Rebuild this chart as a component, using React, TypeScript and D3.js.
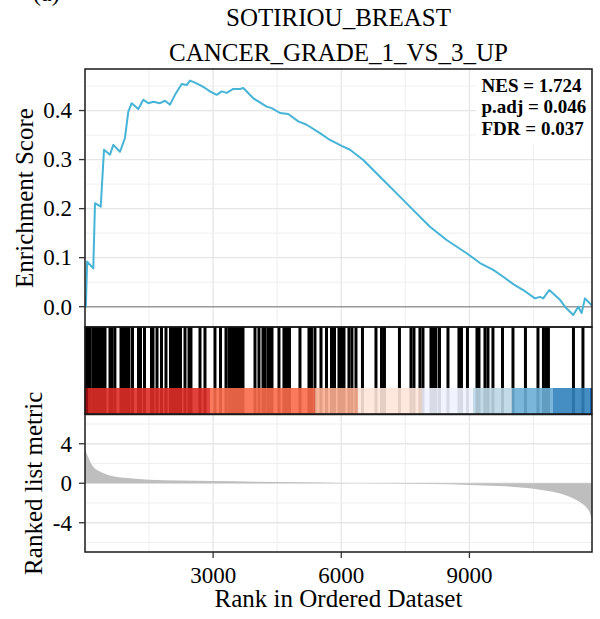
import React from "react";
import * as d3 from "d3";

const TITLE_LINES = ["SOTIRIOU_BREAST", "CANCER_GRADE_1_VS_3_UP"];
const PANEL_TAG = "(a)";
const STATS = ["NES = 1.724", "p.adj = 0.046", "FDR = 0.037"];
const N_GENES = 11870;
const X_TICKS = [3000, 6000, 9000];
const X_MINOR = [1500, 4500, 7500, 10500];
const ES_TICKS = [0, 0.1, 0.2, 0.3, 0.4];
const ES_MINOR = [0.05, 0.15, 0.25, 0.35, 0.45];
const RANK_TICKS = [-4, 0, 4];
const RANK_MINOR = [-6, -2, 2, 6];

const ES_RANK = [0, 20, 50, 194, 234, 368, 445, 585, 663, 819, 936, 1014, 1093, 1248, 1365, 1482, 1599, 1756, 1873, 1990, 2107, 2264, 2381, 2458, 2575, 2692, 2809, 2926, 3083, 3200, 3317, 3472, 3629, 3706, 3940, 4254, 4371, 4565, 4759, 4993, 5190, 5501, 5735, 6009, 6204, 6515, 6906, 7297, 7686, 8076, 8467, 8935, 9247, 9558, 9792, 10026, 10260, 10534, 10651, 10729, 10869, 11120, 11237, 11431, 11548, 11627, 11705, 11862];
const ES_VALUE = [0, 0, 0.092, 0.078, 0.211, 0.204, 0.32, 0.31, 0.33, 0.316, 0.344, 0.398, 0.415, 0.403, 0.422, 0.415, 0.418, 0.415, 0.42, 0.412, 0.432, 0.454, 0.452, 0.461, 0.457, 0.452, 0.446, 0.439, 0.432, 0.439, 0.436, 0.444, 0.444, 0.446, 0.425, 0.408, 0.405, 0.395, 0.393, 0.378, 0.371, 0.354, 0.34, 0.328, 0.32, 0.299, 0.265, 0.231, 0.197, 0.163, 0.136, 0.109, 0.089, 0.075, 0.061, 0.046, 0.034, 0.017, 0.02, 0.017, 0.034, 0.014, 0.0, -0.017, 0.0, -0.013, 0.017, 0.003];

const HIT_RANKS = [23, 59, 120, 187, 246, 300, 328, 375, 421, 468, 585, 632, 700, 843, 890, 936, 983, 1030, 1112, 1252, 1300, 1393, 1557, 1592, 1686, 1791, 1896, 2002, 2048, 2095, 2142, 2189, 2236, 2341, 2435, 2481, 2692, 2809, 3043, 3172, 3301, 3371, 3418, 3465, 3512, 3558, 3605, 3652, 3699, 3980, 4073, 4167, 4214, 4284, 4331, 4378, 4541, 4658, 4717, 4787, 5033, 5244, 5302, 5384, 5525, 5654, 5771, 5841, 5946, 6005, 6063, 6180, 6250, 6344, 6496, 6812, 6941, 7011, 7362, 7632, 7702, 7842, 7913, 8100, 8159, 8217, 8299, 8498, 8755, 8814, 8954, 9177, 9224, 9364, 9434, 9551, 9774, 10020, 10312, 10605, 10733, 10792, 10850, 11436, 11658];

const METRIC_RANK = [0, 40, 80, 130, 200, 350, 580, 1000, 1500, 2200, 3000, 4000, 5000, 6000, 6500, 7000, 8000, 9000, 9700, 10200, 10500, 10800, 11100, 11300, 11500, 11650, 11750, 11820, 11870];
const METRIC_VALUE = [3.4, 3.0, 2.6, 2.1, 1.65, 1.18, 0.78, 0.52, 0.36, 0.28, 0.22, 0.15, 0.09, 0.03, 0.0, -0.03, -0.08, -0.17, -0.28, -0.42, -0.55, -0.75, -1.0, -1.3, -1.7, -2.1, -2.5, -3.0, -3.7];

const STRIP_BREAKS = [0, 70, 2926, 5384, 6391, 7889, 9083, 9996, 10956, 11822, 11870];
const STRIP_COLORS = ["#A50F15", "#DE2D26", "#FB6A4A", "#FCAE91", "#FEE5D9", "#EFF3FF", "#BDD7E7", "#6BAED6", "#3182BD", "#08519C"];

const FONT = "Liberation Serif, Times New Roman, serif";

export default function App() {
  const W = 600, H = 619;
  const L = 85, R = 592;
  const p1 = { top: 69, bottom: 327 };
  const p2 = { top: 327, bottom: 414, stripTop: 388 };
  const p3 = { top: 414.5, bottom: 552 };

  const x = d3.scaleLinear().domain([0, N_GENES]).range([L, R]);
  const yEs = d3.scaleLinear().domain([-0.0414, 0.4847]).range([p1.bottom, p1.top]);
  const yRk = d3.scaleLinear().domain([-6.96, 6.96]).range([p3.bottom, p3.top]);

  const esPts = ES_RANK.map((r, i) => [r, ES_VALUE[i]] as [number, number]);
  const esLine = d3.line<[number, number]>().x(d => x(d[0])).y(d => yEs(d[1]))(esPts) || "";

  const mPts = METRIC_RANK.map((r, i) => [r, METRIC_VALUE[i]] as [number, number]);
  const mArea = d3.area<[number, number]>().x(d => x(d[0])).y0(yRk(0)).y1(d => yRk(d[1])).curve(d3.curveMonotoneX)(mPts) || "";

  const gridMajor = "#E6E6E6";
  const gridMinor = "#EFEFEF";
  const border = "#1a1a1a";
  const tickFs = 23;
  const titleFs = 25;
  const ts = { fontFamily: FONT };

  const fmtEs = (v: number) => v.toFixed(1);

  return (
    <svg width={W} height={H} style={{ position: "absolute", left: 0, top: 0, background: "#fff", fontFamily: FONT }}>
      <rect x={0} y={0} width={W} height={H} fill="#fff" />
      <text style={ts} x={33} y={1} fontSize={24} fill="#000">{PANEL_TAG}</text>
      {TITLE_LINES.map((t, i) => (
        <text style={ts} key={t} x={(L + R) / 2} y={26 + i * 35} fontSize={titleFs} textAnchor="middle" fill="#000">{t}</text>
      ))}

      {/* Panel 1 */}
      <g>
        {X_MINOR.map(v => <line key={"xm1" + v} x1={x(v)} x2={x(v)} y1={p1.top} y2={p1.bottom} stroke={gridMinor} strokeWidth={1} />)}
        {X_TICKS.map(v => <line key={"xM1" + v} x1={x(v)} x2={x(v)} y1={p1.top} y2={p1.bottom} stroke={gridMajor} strokeWidth={1.3} />)}
        {ES_MINOR.map(v => <line key={"ym" + v} x1={L} x2={R} y1={yEs(v)} y2={yEs(v)} stroke={gridMinor} strokeWidth={1} />)}
        {ES_TICKS.map(v => <line key={"yM" + v} x1={L} x2={R} y1={yEs(v)} y2={yEs(v)} stroke={gridMajor} strokeWidth={1.3} />)}
        <line x1={L} x2={R} y1={yEs(0)} y2={yEs(0)} stroke="#9a9a9a" strokeWidth={1.6} />
        <path d={esLine} fill="none" stroke="#45B4D6" strokeWidth={2} strokeLinejoin="round" />
        <rect x={476} y={p1.top} width={R - 476} height={145 - p1.top} fill="#fff" />
        {STATS.map((s, i) => (
          <text style={ts} key={s} x={481.5} y={91.7 + i * 21.7} fontSize={19} fontWeight="bold" fill="#000">{s}</text>
        ))}
        <rect x={L} y={p1.top} width={R - L} height={p1.bottom - p1.top} fill="none" stroke={border} strokeWidth={1.5} />
        {ES_TICKS.map(v => (
          <g key={"et" + v}>
            <line x1={L - 6} x2={L} y1={yEs(v)} y2={yEs(v)} stroke="#333" strokeWidth={1.3} />
            <text style={ts} x={72} y={yEs(v)} dy="0.34em" fontSize={tickFs} textAnchor="end" fill="#000">{fmtEs(v)}</text>
          </g>
        ))}
        <text style={ts} transform={`translate(33,${(p1.top + p1.bottom) / 2}) rotate(-90)`} fontSize={titleFs} textAnchor="middle" fill="#000">Enrichment Score</text>
      </g>

      {/* Panel 2 */}
      <g>
        {HIT_RANKS.map(r => <line key={"h" + r} x1={x(r)} x2={x(r)} y1={p2.top} y2={p2.bottom} stroke="#000" strokeWidth={3} />)}
        {STRIP_COLORS.map((c, i) => (
          <rect key={"s" + i} x={x(STRIP_BREAKS[i])} y={p2.stripTop} width={x(STRIP_BREAKS[i + 1]) - x(STRIP_BREAKS[i])} height={p2.bottom - p2.stripTop} fill={c} fillOpacity={0.9} />
        ))}
        <rect x={L} y={p2.top} width={R - L} height={p2.bottom - p2.top} fill="none" stroke={border} strokeWidth={1.5} />
      </g>

      {/* Panel 3 */}
      <g>
        {X_MINOR.map(v => <line key={"xm3" + v} x1={x(v)} x2={x(v)} y1={p3.top} y2={p3.bottom} stroke={gridMinor} strokeWidth={1} />)}
        {X_TICKS.map(v => <line key={"xM3" + v} x1={x(v)} x2={x(v)} y1={p3.top} y2={p3.bottom} stroke={gridMajor} strokeWidth={1.3} />)}
        {RANK_MINOR.map(v => <line key={"rm" + v} x1={L} x2={R} y1={yRk(v)} y2={yRk(v)} stroke={gridMinor} strokeWidth={1} />)}
        {RANK_TICKS.map(v => <line key={"rM" + v} x1={L} x2={R} y1={yRk(v)} y2={yRk(v)} stroke={gridMajor} strokeWidth={1.3} />)}
        <path d={mArea} fill="#BEBEBE" />
        <rect x={L} y={p3.top} width={R - L} height={p3.bottom - p3.top} fill="none" stroke={border} strokeWidth={1.5} />
        {RANK_TICKS.map(v => (
          <g key={"rt" + v}>
            <line x1={L - 6} x2={L} y1={yRk(v)} y2={yRk(v)} stroke="#333" strokeWidth={1.3} />
            <text style={ts} x={72} y={yRk(v)} dy="0.34em" fontSize={tickFs} textAnchor="end" fill="#000">{v}</text>
          </g>
        ))}
        {X_TICKS.map(v => (
          <g key={"xt" + v}>
            <line x1={x(v)} x2={x(v)} y1={p3.bottom} y2={p3.bottom + 6} stroke="#333" strokeWidth={1.3} />
            <text style={ts} x={x(v)} y={583} fontSize={tickFs} textAnchor="middle" fill="#000">{v}</text>
          </g>
        ))}
        <text style={ts} transform={`translate(42,${(p3.top + p3.bottom) / 2}) rotate(-90)`} fontSize={titleFs} textAnchor="middle" fill="#000">Ranked list metric</text>
        <text style={ts} x={(L + R) / 2} y={607} fontSize={titleFs} textAnchor="middle" fill="#000">Rank in Ordered Dataset</text>
      </g>
    </svg>
  );
}
